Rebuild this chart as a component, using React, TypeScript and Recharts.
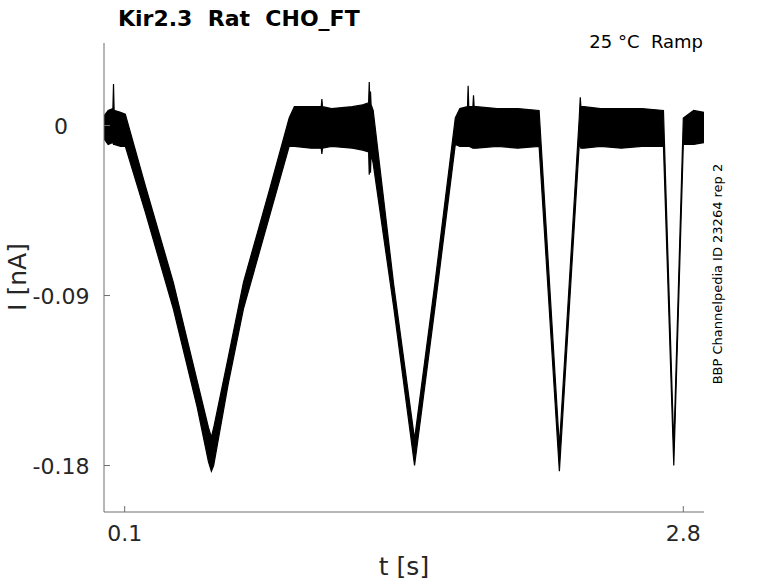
import React from 'react';
import { ComposedChart, Area, XAxis, YAxis } from 'recharts';

// time [s]
const times = [
  0.0, 0.02, 0.043, 0.046, 0.049, 0.08, 0.103,
  0.2, 0.335, 0.45, 0.505, 0.519, 0.53, 0.6, 0.674, 0.8, 0.895,
  0.92, 1.0, 1.05, 1.053, 1.056, 1.1, 1.2, 1.25, 1.279, 1.282, 1.285, 1.288, 1.291, 1.301,
  1.4, 1.501, 1.6, 1.698,
  1.72, 1.757, 1.76, 1.763, 1.783, 1.786, 1.789, 1.8, 1.9, 2.0, 2.103,
  2.201, 2.297,
  2.302, 2.305, 2.32, 2.4, 2.5, 2.6, 2.704,
  2.754, 2.8, 2.85, 2.9,
];
// lower envelope of the current trace [nA]
const lowEnv = [
  -0.007, -0.01, -0.009, -0.01, -0.01, -0.011, -0.011,
  -0.046, -0.097, -0.149, -0.178, -0.183, -0.18, -0.137, -0.097, -0.048, -0.011,
  -0.011, -0.012, -0.012, -0.015, -0.012, -0.011, -0.012, -0.013, -0.014, -0.026, -0.014, -0.025, -0.015, -0.02,
  -0.096, -0.18, -0.096, -0.01,
  -0.011, -0.011, -0.011, -0.011, -0.012, -0.012, -0.012, -0.012, -0.011, -0.012, -0.011,
  -0.183, -0.01,
  -0.011, -0.012, -0.012, -0.011, -0.012, -0.011, -0.011,
  -0.18, -0.01, -0.01, -0.009,
];
// upper envelope of the current trace [nA]
const highEnv = [
  0.005, 0.008, 0.009, 0.022, 0.008, 0.007, 0.006,
  -0.032, -0.083, -0.135, -0.16, -0.165, -0.16, -0.123, -0.083, -0.034, 0.004,
  0.01, 0.01, 0.01, 0.014, 0.01, 0.009, 0.01, 0.011, 0.012, 0.023, 0.012, 0.018, 0.011, 0.008,
  -0.084, -0.166, -0.083, 0.004,
  0.009, 0.01, 0.021, 0.01, 0.01, 0.016, 0.01, 0.01, 0.009, 0.009, 0.008,
  -0.17, 0.004,
  0.015, 0.01, 0.01, 0.009, 0.009, 0.009, 0.008,
  -0.17, 0.004, 0.008, 0.007,
];

const xTicks = [0.1, 2.8];
const xTickLabels = ['0.1', '2.8'];
const yTicks = [-0.18, -0.09, 0];
const yTickLabels = ['-0.18', '-0.09', '0'];

const titleText = 'Kir2.3  Rat  CHO_FT';
const condText = '25 °C  Ramp';
const idText = 'BBP Channelpedia ID 23264 rep 2';
const xLabel = 't [s]';
const yLabel = 'I [nA]';

const data = times.map((t, i) => ({ t, band: [lowEnv[i], highEnv[i]] }));

const FONT = 'DejaVu Sans';
const AXIS = '#6e6e6e';
const TXT = '#262626';

const XTick = (props: any) => {
  const { x, y, index } = props;
  return (
    <g>
      <line x1={x} x2={x} y1={y} y2={y - 6} stroke={AXIS} strokeWidth={1} />
      <text x={x} y={y + 29} textAnchor="middle" fontSize={22} fill={TXT} fontFamily={FONT}>
        {xTickLabels[index]}
      </text>
    </g>
  );
};

const YTick = (props: any) => {
  const { x, y, index } = props;
  return (
    <g>
      <line x1={x} x2={x + 6} y1={y} y2={y} stroke={AXIS} strokeWidth={1} />
      <text x={x - 43} y={y + 8} textAnchor="middle" fontSize={22} fill={TXT} fontFamily={FONT}>
        {yTickLabels[index]}
      </text>
    </g>
  );
};

export default function App() {
  return (
    <div style={{ position: 'absolute', left: 0, top: 0, width: 778, height: 583, background: '#fff' }}>
      <ComposedChart
        width={778}
        height={583}
        data={data}
        margin={{ top: 43, right: 74, bottom: 0, left: 0 }}
      >
        <XAxis
          dataKey="t"
          type="number"
          domain={[0, 2.9]}
          ticks={xTicks}
          tick={<XTick />}
          tickLine={false}
          tickSize={0}
          tickMargin={0}
          height={71}
          axisLine={{ stroke: AXIS, strokeWidth: 1 }}
          allowDataOverflow
        />
        <YAxis
          type="number"
          domain={[-0.2046, 0.0437]}
          ticks={yTicks}
          tick={<YTick />}
          tickLine={false}
          tickSize={0}
          tickMargin={0}
          width={104}
          axisLine={{ stroke: AXIS, strokeWidth: 1 }}
          allowDataOverflow
        />
        <Area
          dataKey="band"
          type="linear"
          stroke="#000"
          strokeWidth={1.2}
          fill="#000"
          fillOpacity={1}
          isAnimationActive={false}
          dot={false}
          activeDot={false}
        />
      </ComposedChart>
      <svg
        width={778}
        height={583}
        style={{ position: 'absolute', left: 0, top: 0, pointerEvents: 'none' }}
      >
        <text x={118} y={26} fontSize={22} fontWeight="bold" fill="#000" fontFamily={FONT} style={{ whiteSpace: 'pre' }}>
          {titleText}
        </text>
        <text x={703} y={48} fontSize={18} textAnchor="end" fill="#000" fontFamily={FONT} style={{ whiteSpace: 'pre' }}>
          {condText}
        </text>
        <text
          x={717}
          y={274}
          fontSize={13}
          textAnchor="middle"
          dominantBaseline="central"
          fill="#000"
          fontFamily={FONT}
          transform="rotate(-90 717 274)"
        >
          {idText}
        </text>
        <text x={404} y={575} fontSize={25} textAnchor="middle" fill={TXT} fontFamily={FONT}>
          {xLabel}
        </text>
        <text
          x={17}
          y={277}
          fontSize={25}
          textAnchor="middle"
          dominantBaseline="central"
          fill={TXT}
          fontFamily={FONT}
          transform="rotate(-90 17 277)"
        >
          {yLabel}
        </text>
      </svg>
    </div>
  );
}
